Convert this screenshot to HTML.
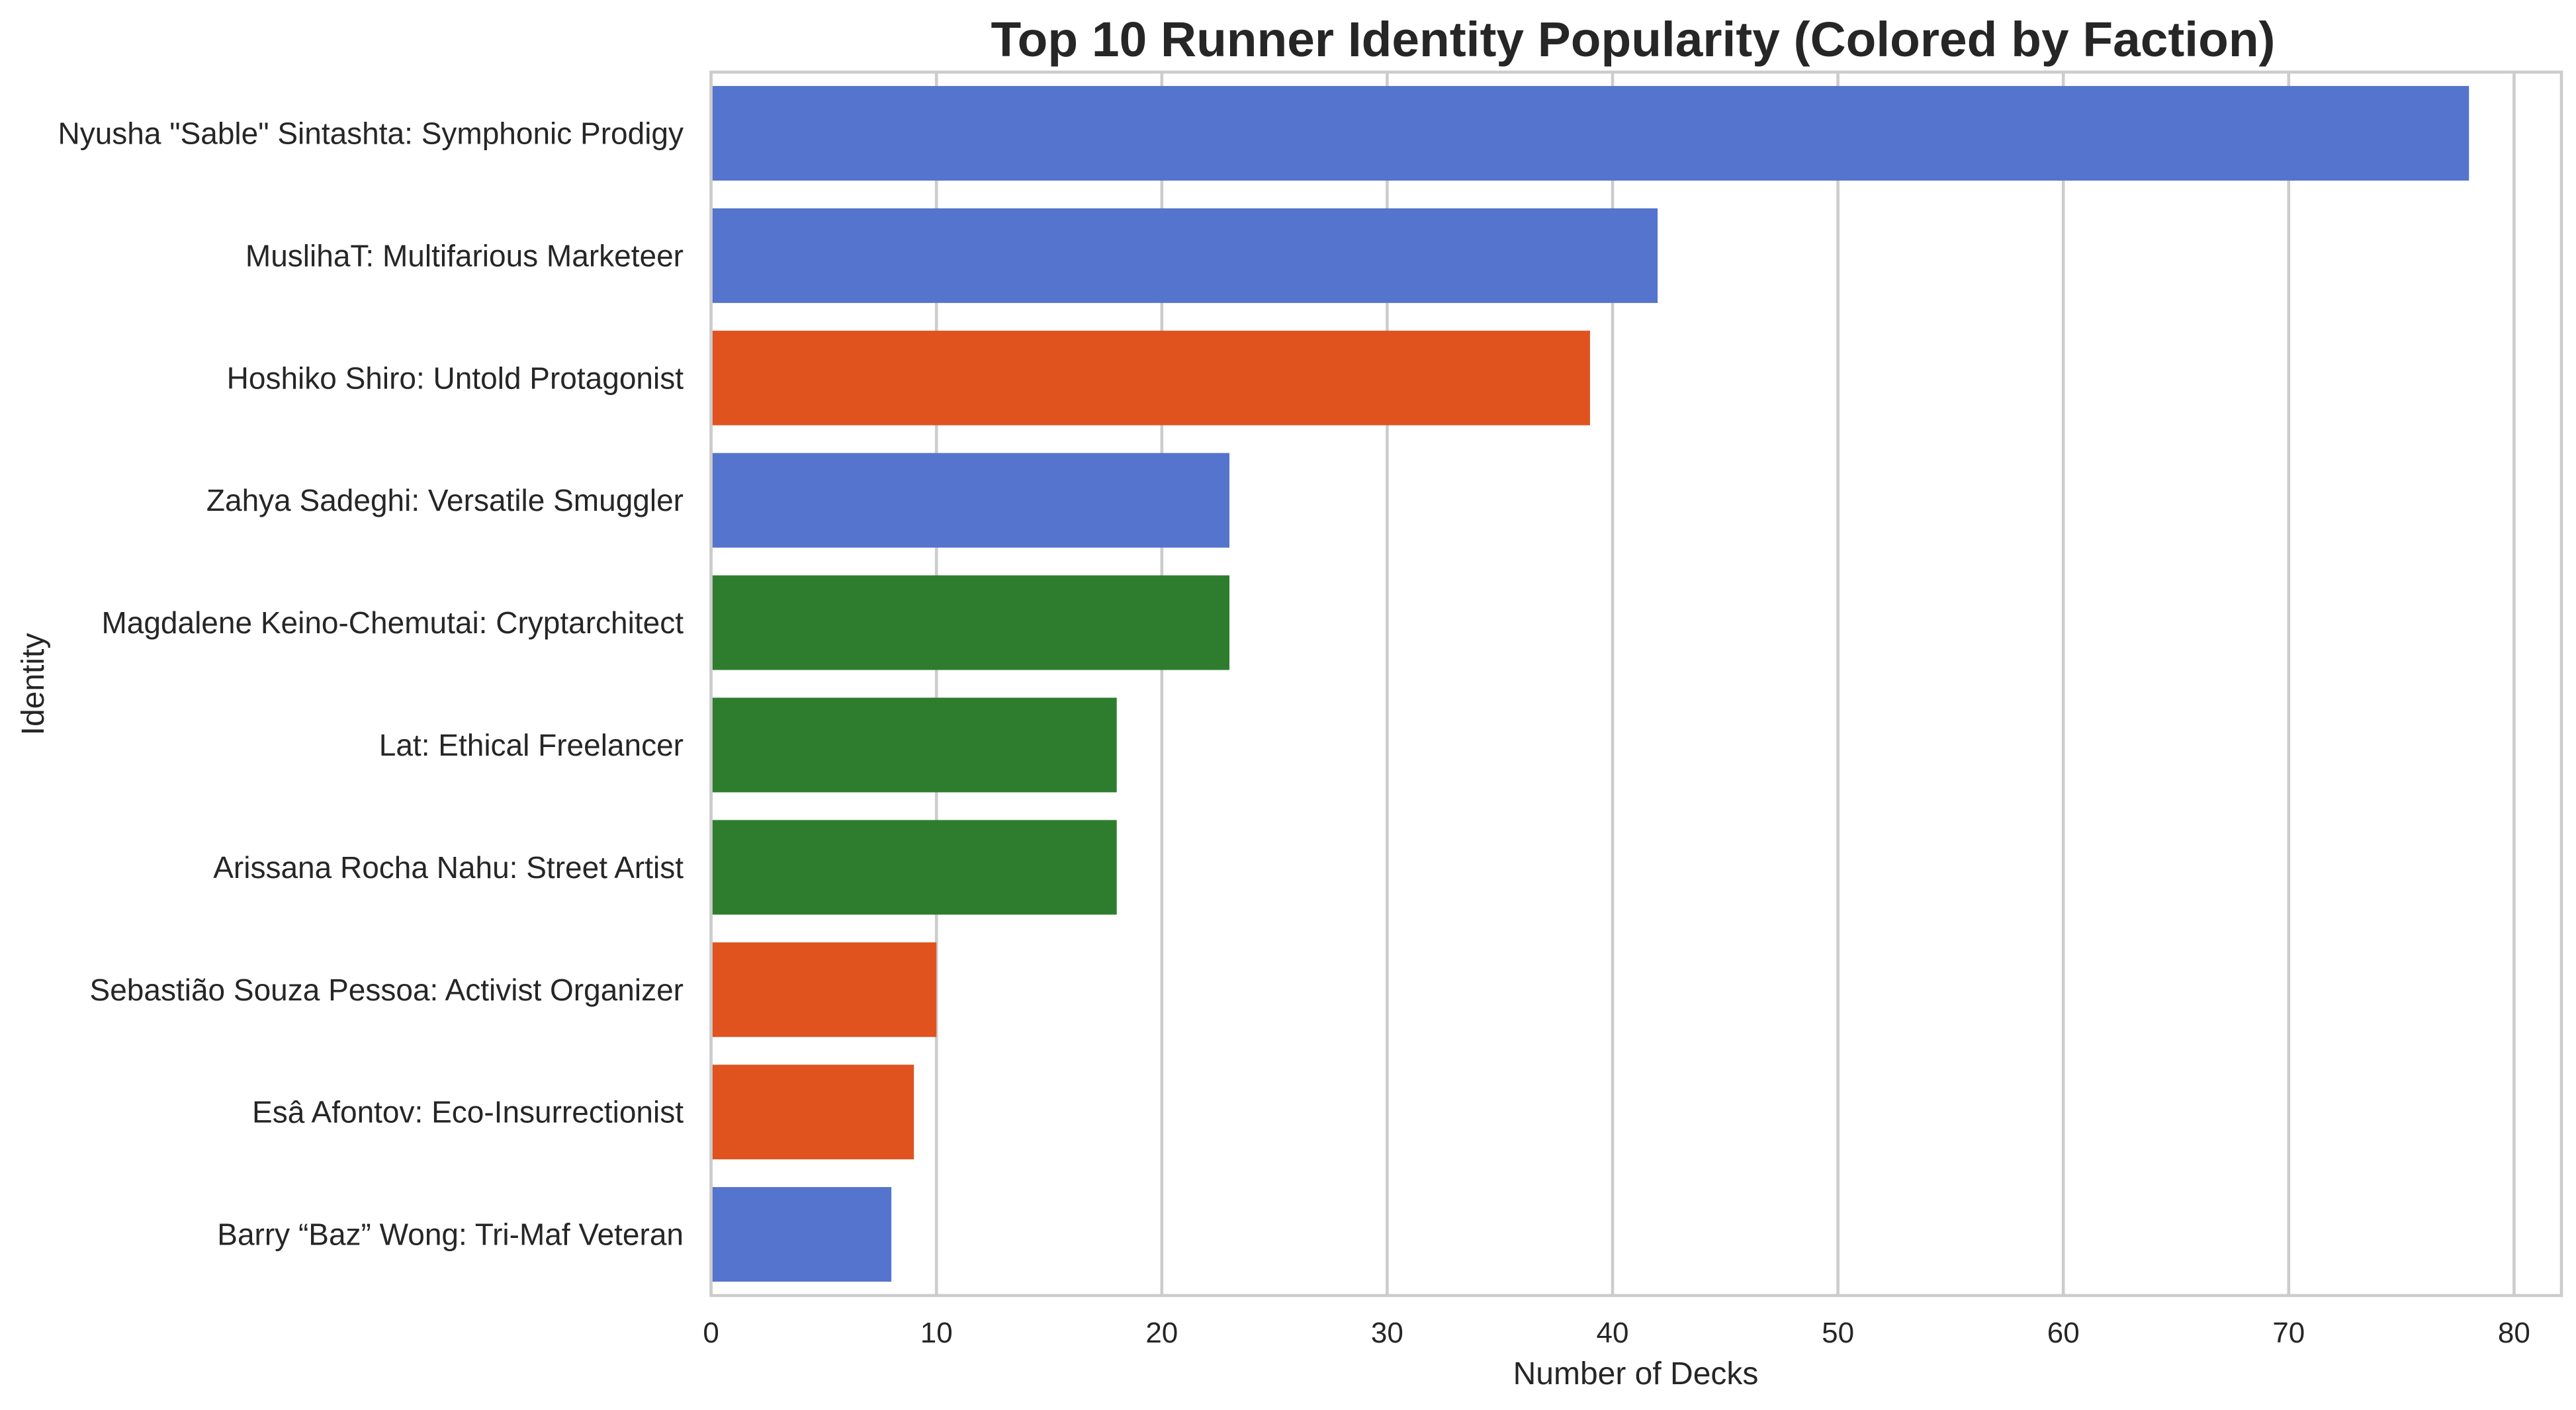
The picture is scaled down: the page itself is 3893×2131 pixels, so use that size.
<!DOCTYPE html>
<html><head><meta charset="utf-8"><style>html,body{margin:0;padding:0;background:#fff}svg{display:block}text{font-family:"Liberation Sans",Arial,sans-serif;fill:#262626}</style></head>
<body>
<svg id="chart" width="3893" height="2131" viewBox="0 0 3893 2131" xmlns="http://www.w3.org/2000/svg">
<rect x="0" y="0" width="3893" height="2131" fill="#ffffff"/>
<g id="grid"></g><g id="bars"></g><g id="axes"></g>
<text x="2468" y="85" text-anchor="middle" font-size="74" font-weight="bold" textLength="1941" lengthAdjust="spacingAndGlyphs">Top 10 Runner Identity Popularity (Colored by Faction)</text>
<text x="2472" y="2092" text-anchor="middle" font-size="48">Number of Decks</text>
<text x="0" y="0" transform="translate(66,1034) rotate(-90)" text-anchor="middle" font-size="48">Identity</text>
</svg>
<script>
const identities = ['Nyusha "Sable" Sintashta: Symphonic Prodigy','MuslihaT: Multifarious Marketeer','Hoshiko Shiro: Untold Protagonist','Zahya Sadeghi: Versatile Smuggler','Magdalene Keino-Chemutai: Cryptarchitect','Lat: Ethical Freelancer','Arissana Rocha Nahu: Street Artist','Sebastião Souza Pessoa: Activist Organizer','Esâ Afontov: Eco-Insurrectionist','Barry “Baz” Wong: Tri-Maf Veteran'];
const deckCounts = [78,42,39,23,23,18,18,10,9,8];
const factions = ['shaper','shaper','anarch','shaper','criminal','criminal','criminal','anarch','anarch','shaper'];
const xTicks = [0,10,20,30,40,50,60,70,80];
const factionColors = {shaper:'#5574cd', anarch:'#e0531f', criminal:'#2e7d2e'};

const NS='http://www.w3.org/2000/svg';
const L=1074.6, R=3871, T=109, B=1958, pxPerUnit=34.06;
const band=(B-T)/identities.length, barH=143;
const xs=v=>L+v*pxPerUnit;
const yc=i=>T+band*(i+0.5);
function mk(tag,attrs,parent){const e=document.createElementNS(NS,tag);for(const k in attrs)e.setAttribute(k,attrs[k]);parent.appendChild(e);return e;}
const grid=document.getElementById('grid'),bars=document.getElementById('bars'),axes=document.getElementById('axes');
xTicks.forEach(t=>{
  const g=mk('line',{x1:xs(t),x2:xs(t),y1:T,y2:B,stroke:'#cccccc','stroke-width':4.6},grid);
  
  
  const lb=mk('text',{x:xs(t),y:2029,'text-anchor':'middle','font-size':44},axes);
  lb.textContent=String(t);
  
  
});
identities.forEach((name,i)=>{
  const r=mk('rect',{x:L,y:yc(i)-barH/2,width:deckCounts[i]*pxPerUnit,height:barH,fill:factionColors[factions[i]]},bars);
  
  
  const lb=mk('text',{x:1033,y:yc(i)+16,'text-anchor':'end','font-size':46},axes);
  lb.textContent=name;
  
  
});
const frame=mk('rect',{x:L,y:T,width:R-L,height:B-T,fill:'none',stroke:'#cccccc','stroke-width':4.6},axes);


</script>
</body></html>
